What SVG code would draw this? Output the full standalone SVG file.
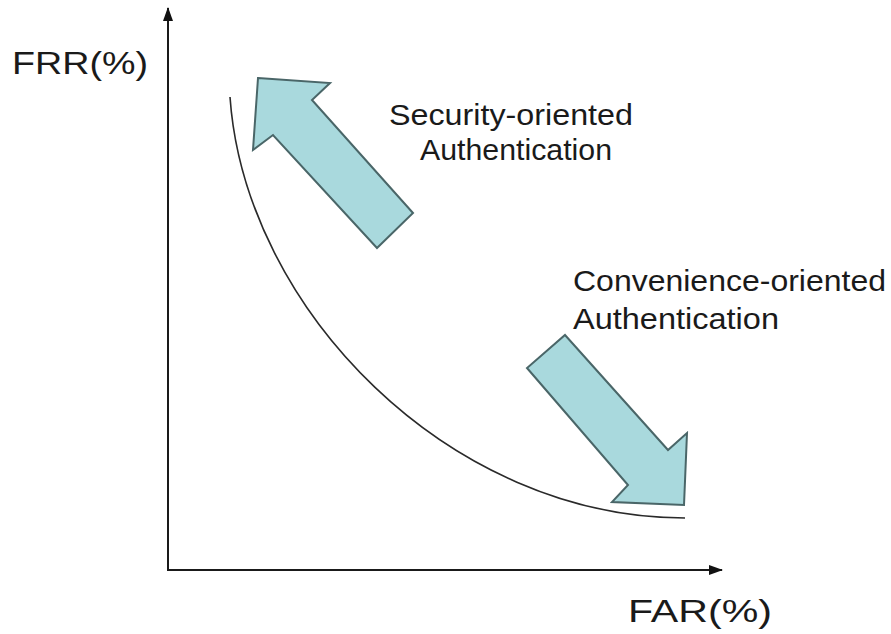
<svg xmlns="http://www.w3.org/2000/svg" width="891" height="634" viewBox="0 0 891 634">
  <style>
    .axis { stroke: #1a1a1a; stroke-width: 2; fill: none; }
    .curve { stroke: #2a2a2a; stroke-width: 1.6; fill: none; }
    .bigarrow { fill: #a9d9dd; stroke: #4a6668; stroke-width: 2; stroke-linejoin: miter; }
    .label { font-family: "Liberation Sans", Arial, sans-serif; fill: #1a1a1a; }
  </style>
  <defs>
    <marker id="axisHead" viewBox="0 0 14 10" refX="13" refY="5" markerWidth="14" markerHeight="10" markerUnits="userSpaceOnUse" orient="auto">
      <path d="M0,0 L14,5 L0,10 Z" fill="#111"/>
    </marker>
  </defs>

  <!-- axes -->
  <g id="connectors">
    <path class="axis" d="M168,570 L168,8" marker-end="url(#axisHead)"/>
    <path class="axis" d="M167,570 L722,570" marker-end="url(#axisHead)"/>
    <!-- trade-off curve between FRR and FAR -->
    <path class="curve" d="M230,97 C245,310 450,518 685,518"/>
  </g>

  <g id="frr-label">
    <text class="label" x="12" y="74" font-size="31" textLength="136" lengthAdjust="spacingAndGlyphs">FRR(%)</text>
  </g>
  <g id="far-label">
    <text class="label" x="628" y="622" font-size="31" textLength="144" lengthAdjust="spacingAndGlyphs">FAR(%)</text>
  </g>

  <g id="security">
    <polygon class="bigarrow" points="258,78 330,83 312,100 413,213 377,248 273,135 253,150"/>
    <text class="label" font-size="30">
      <tspan x="389" y="125" textLength="244" lengthAdjust="spacingAndGlyphs">Security-oriented</tspan>
      <tspan x="420" y="160" textLength="192" lengthAdjust="spacingAndGlyphs">Authentication</tspan>
    </text>
  </g>

  <g id="convenience">
    <polygon class="bigarrow" points="565,335 668,450 687,433 684,505 612,502 628,485 527,368"/>
    <text class="label" font-size="30">
      <tspan x="573" y="291" textLength="313" lengthAdjust="spacingAndGlyphs">Convenience-oriented</tspan>
      <tspan x="573" y="329" textLength="206" lengthAdjust="spacingAndGlyphs">Authentication</tspan>
    </text>
  </g>
</svg>
